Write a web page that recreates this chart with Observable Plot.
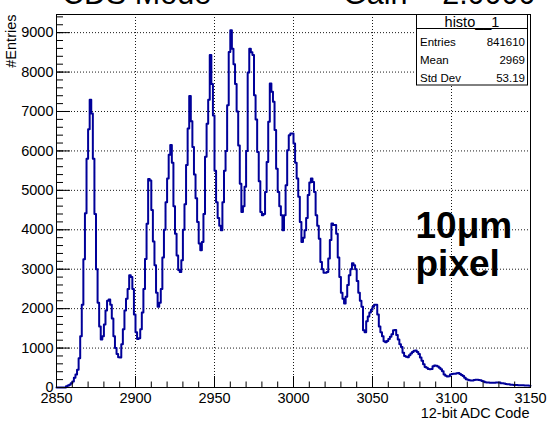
<!DOCTYPE html>
<html><head><meta charset="utf-8">
<script src="https://cdn.jsdelivr.net/npm/d3@7"></script>
<script src="https://cdn.jsdelivr.net/npm/@observablehq/plot@0.6"></script>
<style>body{margin:0;background:#fff;} svg{display:block}</style>
</head><body><div id="chart"></div>
<script>
// Histogram: 1 ADC code per bin, codes 2850..3149
const firstCode = 2850;
const lastEdge = 3150;
const counts = [
  0,0,0,0,0,0,30,50,70,110,
  150,250,330,450,740,1300,2100,3250,4420,5800,
  6550,7300,6950,5800,4400,3000,2150,1550,1220,1300,
  1600,1950,2200,2230,2100,1750,1300,1000,850,770,
  760,1100,1480,1950,2250,2500,2850,2800,2500,1850,
  1400,1230,1250,1480,1900,2500,3260,4150,5290,5250,
  4500,3700,3100,2400,2050,2150,2500,3300,4000,4700,
  5300,5900,6150,5700,4600,3900,3350,2980,2930,3230,
  4000,4650,5640,6570,7390,6750,6100,5400,4800,4200,
  3650,3480,3690,4400,5850,6690,7300,8430,7700,6900,
  5500,4700,4300,4100,3990,4700,5500,6000,7160,8510,
  9060,8590,8200,7700,7000,6140,5170,4450,4600,5090,
  6000,7990,8590,8500,8430,7410,6800,5970,5230,4450,
  4370,4400,4960,5720,6740,7710,7500,7250,6530,5550,
  4960,4600,4370,3990,4370,5130,6020,6400,6440,6440,
  6190,5700,5300,4840,4200,3690,3800,3990,4300,4880,
  5200,5300,5210,4960,4370,4100,3770,3180,3000,2910,
  2910,2930,3270,3740,4160,4120,4120,3900,3300,2800,
  2400,2250,2130,2300,2600,2850,3000,3150,3100,3000,
  2700,2400,2200,2050,1450,1400,1680,1800,1900,1970,
  2050,2100,2100,1850,1550,1400,1300,1170,1150,1180,
  1230,1290,1350,1450,1460,1330,1220,1100,1030,880,
  800,780,770,820,860,900,930,940,900,850,
  760,680,590,520,500,470,460,470,540,560,
  550,530,500,460,410,330,300,280,285,330,
  340,350,350,360,365,340,320,290,245,210,
  195,185,180,180,190,195,195,190,185,165,
  155,130,125,125,120,120,118,120,125,127,
  125,110,108,100,88,85,82,70,68,66,
  65,62,60,60,58,55,52,50,48,45
];
const xMajorTicks = [2850, 2900, 2950, 3000, 3050, 3100, 3150];
const xGridTicks = [2900, 2950, 3000, 3050, 3100];
const yMajorTicks = [0, 1000, 2000, 3000, 4000, 5000, 6000, 7000, 8000, 9000];
const yGridTicks = [1000, 2000, 3000, 4000, 5000, 6000, 7000, 8000, 9000];
const xMinorTicks = d3.range(2850, 3151, 10);
const yMinorTicks = d3.range(0, 9401, 200);
const statsTitle = "histo__1";
const statsLabels = ["Entries", "Mean", "Std Dev"];
const statsValues = ["841610", "2969", "53.19"];
const xTitle = "12-bit ADC Code";
const yTitle = "#Entries";
const annotation = "10μm\npixel";
const topLeftText = "CDS Mode";
const topRightText = "Gain = 2.0000";

const fontFam = "'Liberation Sans', Arial, Helvetica, sans-serif";
const stepData = counts.map((n, i) => ({code: firstCode + i, n}))
  .concat([{code: lastEdge, n: counts[counts.length - 1]}]);

const chart = Plot.plot({
  width: 547, height: 424,
  marginTop: 14, marginRight: 17, marginBottom: 37, marginLeft: 56,
  style: {fontFamily: fontFam, fontSize: "14.5px", color: "#000", background: "#fff", overflow: "visible"},
  x: {domain: [2850, 3150]},
  y: {domain: [0, 9460]},
  marks: [
    Plot.gridX(xGridTicks, {stroke: "#000", strokeOpacity: 0.9, strokeDasharray: "1,2"}),
    Plot.gridY(yGridTicks, {stroke: "#000", strokeOpacity: 0.9, strokeDasharray: "1,2"}),
    Plot.line(stepData, {x: "code", y: "n", curve: "step-after", stroke: "#000099", strokeWidth: 2}),
    Plot.axisX(xMinorTicks, {tickSize: -5.5, tickFormat: () => "", label: null}),
    Plot.axisX(xMajorTicks, {tickSize: -11, tickFormat: () => "", label: null}),
    Plot.axisX(xMajorTicks, {tickSize: 0, tickPadding: 5, tickFormat: d => String(d), label: null, fontSize: 14.5}),
    Plot.axisY(yMinorTicks, {tickSize: -7, tickFormat: () => "", label: null}),
    Plot.axisY(yMajorTicks, {tickSize: -14, tickFormat: () => "", label: null}),
    Plot.axisY(yMajorTicks, {tickSize: 0, tickPadding: 3, tickFormat: d => String(d), label: null, fontSize: 14.5}),
    Plot.frame({stroke: "#000"}),
    Plot.text([xTitle], {frameAnchor: "bottom-right", dy: 30, dx: -1, textAnchor: "end", lineAnchor: "bottom", fontSize: 14.5, text: d => d}),
    Plot.text([yTitle], {frameAnchor: "top-left", dx: -41, rotate: -90, textAnchor: "end", lineAnchor: "bottom", fontSize: 14.5, text: d => d}),
    Plot.text([annotation], {frameAnchor: "top-left", dx: 359, dy: 196, textAnchor: "start", lineAnchor: "top", fontSize: 37, fontWeight: "bold", lineHeight: 1.03, text: d => d})
  ]
});
document.getElementById("chart").appendChild(chart);

// stats box and clipped top captions
const svg = d3.select(chart);
const g = svg.append("g").attr("font-family", fontFam).attr("fill", "#000").attr("text-anchor", "start");
g.append("text").attr("x", 62).attr("y", 4).attr("font-size", 30.5).attr("text-anchor", "start").text(topLeftText);
g.append("text").attr("x", 343).attr("y", 4).attr("font-size", 30.5).attr("text-anchor", "start").text(topRightText);
g.append("rect").attr("x", 416.5).attr("y", 14.5).attr("width", 111).attr("height", 70.5)
  .attr("fill", "#fff").attr("stroke", "#000").attr("stroke-width", 1);
g.append("line").attr("x1", 416.5).attr("x2", 527.5).attr("y1", 28.5).attr("y2", 28.5).attr("stroke", "#000");
g.append("text").attr("x", 472).attr("y", 26.5).attr("text-anchor", "middle").attr("font-size", 14.5).text(statsTitle);
statsLabels.forEach((lab, i) => {
  const yb = 45.5 + i * 18.4;
  g.append("text").attr("x", 420).attr("y", yb).attr("font-size", 11.5).attr("text-anchor", "start").text(lab);
  g.append("text").attr("x", 525).attr("y", yb).attr("font-size", 11.5).attr("text-anchor", "end").text(statsValues[i]);
});
</script>
</body></html>
